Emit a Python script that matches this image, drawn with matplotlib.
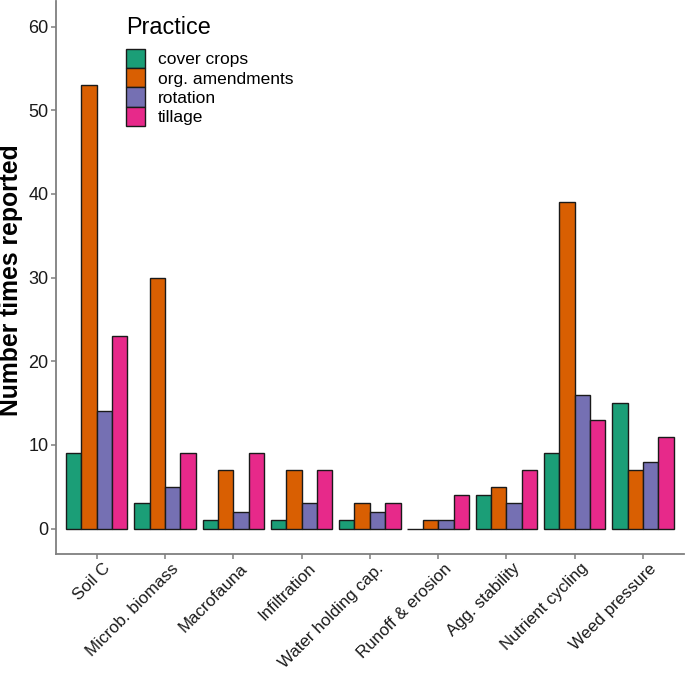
import matplotlib
matplotlib.use("Agg")
import matplotlib.pyplot as plt
import matplotlib.transforms as mtransforms
import numpy as np

plt.rcParams['font.family'] = ['Liberation Sans', 'DejaVu Sans']

categories = ["Soil C", "Microb. biomass", "Macrofauna", "Infiltration",
              "Water holding cap.", "Runoff & erosion", "Agg. stability",
              "Nutrient cycling", "Weed pressure"]
practices = ["cover crops", "org. amendments", "rotation", "tillage"]
cover_crops = [9, 3, 1, 1, 1, 0, 4, 9, 15]
org_amendments = [53, 30, 7, 7, 3, 1, 5, 39, 7]
rotation = [14, 5, 2, 3, 2, 1, 3, 16, 8]
tillage = [23, 9, 9, 7, 3, 4, 7, 13, 11]
series = [cover_crops, org_amendments, rotation, tillage]
colors = ["#1B9E77", "#D95F02", "#7570B3", "#E7298A"]
yticks = [0, 10, 20, 30, 40, 50, 60]

W, H = 685, 673
fig = plt.figure(figsize=(W / 100, H / 100), dpi=100)
left, right, bottom, top = 55.7, 684.0, 553.7, 1.4
ax = fig.add_axes([left / W, (H - bottom) / H, (right - left) / W, (bottom - top) / H])

x = np.arange(1, len(categories) + 1)
group_w = 0.9
bw = group_w / len(series)
for i, (vals, name, col) in enumerate(zip(series, practices, colors)):
    off = -group_w / 2 + bw * (i + 0.5)
    ax.bar(x + off, vals, width=bw, color=col, edgecolor="#1a1a1a",
           linewidth=1.0, label=name)

ax.set_xlim(0.4, len(categories) + 0.6)
ax.set_ylim(-3, 63)
ax.set_yticks(yticks)
ax.set_xticks(x)
ax.set_xticklabels(categories, rotation=45, ha="right", va="top",
                   rotation_mode="anchor", fontsize=12.2, color="#1a1a1a")
ax.tick_params(axis="y", labelsize=13, labelcolor="#1a1a1a", pad=1.5)
ax.tick_params(axis="both", color="#7f7f7f", width=1.1, length=3.6)
ax.tick_params(axis="x", pad=1.5)

offset = mtransforms.ScaledTranslation(6 / 100, 0, fig.dpi_scale_trans)
for lab in ax.get_xticklabels():
    lab.set_transform(lab.get_transform() + offset)

for s in ["top", "right"]:
    ax.spines[s].set_visible(False)
for s in ["left", "bottom"]:
    ax.spines[s].set_color("#7f7f7f")
    ax.spines[s].set_linewidth(1.3)

fig.text(11 / W, 1 - 280 / H, "Number times reported", rotation=90,
         ha="center", va="center", fontsize=17.8, fontweight="bold")

leg = ax.legend(title="Practice", loc="upper left",
                bbox_to_anchor=(126 / W, 1 - 16 / H), bbox_transform=fig.transFigure,
                frameon=False, fontsize=12.5, title_fontsize=16.8,
                handlelength=1.11, handleheight=1.34, labelspacing=0,
                handletextpad=0.72, borderpad=0, borderaxespad=0,
                alignment="left")
leg._legend_box.sep = 7.0

fig.savefig("out.png", dpi=100)
